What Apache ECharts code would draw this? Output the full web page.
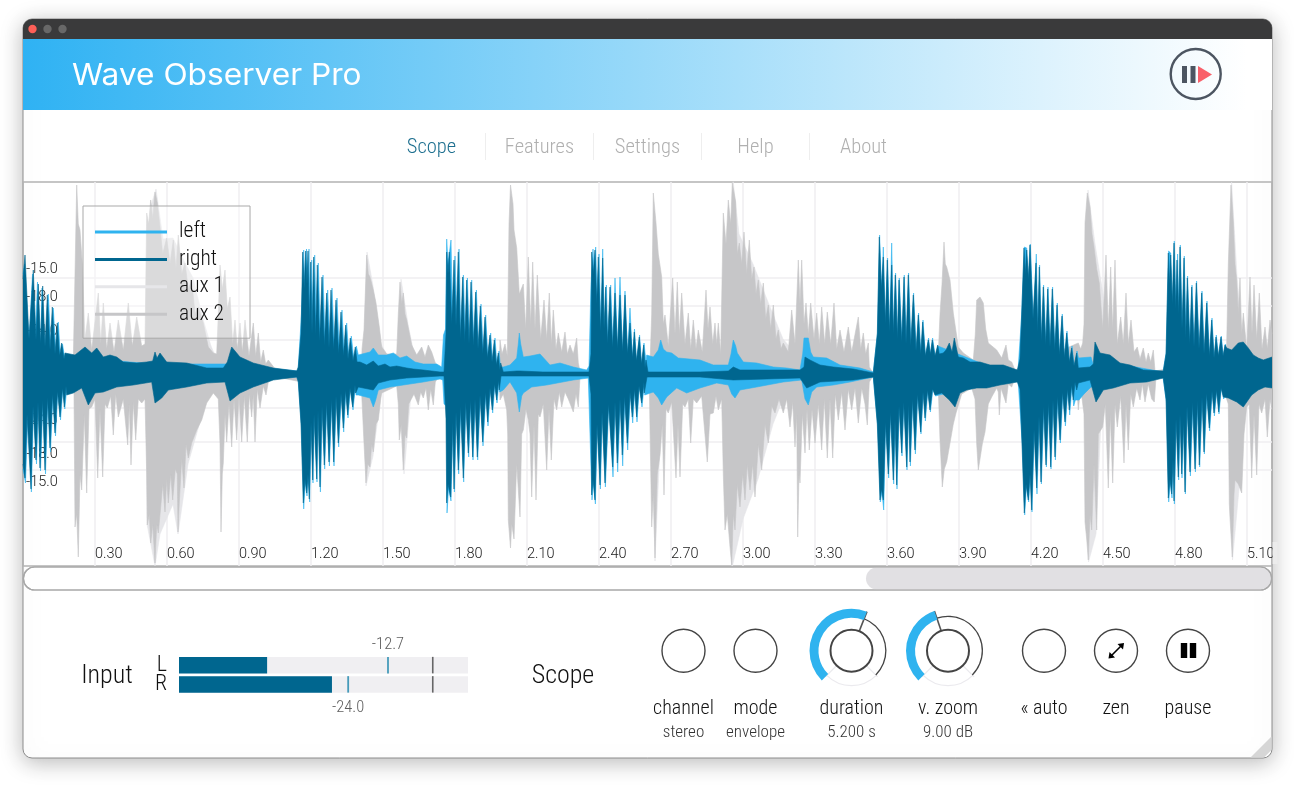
<!DOCTYPE html>
<html>
<head>
<meta charset="utf-8">
<title>Wave Observer Pro</title>
<script src="https://cdn.jsdelivr.net/npm/echarts@6/dist/echarts.min.js"></script>
<style>
html, body { margin: 0; padding: 0; background: #fff; }
#main { width: 1294px; height: 785px; }
</style>
</head>
<body>
<div id="main"></div>
<script>
// x = frame at 240 frames per second, y = amplitude in scope units (view is +-192)
var frameRate = 240;
var lastFrame = 1249;
var ampRange = 192;
var timeTicks = [0.30, 0.60, 0.90, 1.20, 1.50, 1.80, 2.10, 2.40, 2.70, 3.00, 3.30, 3.60, 3.90, 4.20, 4.50, 4.80, 5.10];
var ampTicks = [-96, -68, -34, 34, 68, 96];
var ampLabels = ['-15.0', '-18.0', '-24.0', '-24.0', '-18.0', '-15.0'];

var rightUp = [[0,95],[2,119],[6,35],[10.3,104],[13,34],[15.3,90],[17.5,30],[19.7,88],[22,27],[24.3,79],[27,24],[29.3,67],[32,20],[34.3,51],[36.5,18],[38.7,31],[41,15],[42,21],[52,19],[62,27],[68.7,21],[73.7,26],[80.3,17],[87,19],[93.7,17],[100.3,12],[113.7,11],[123.7,12],[129.7,13],[132,22],[134,16],[137,21],[143.7,12],[163.7,11],[183.7,6],[200.3,6],[204.3,12],[208.7,27],[217,17],[230.3,11],[250.3,6],[273.7,3],
  [275.3,7],[278,40],[279.7,122],[281.2,85],[282.7,123],[284,90],[285,123],[286.3,50],[287.7,112],[289,40],[290.7,117],[292.5,38],[294.3,109],[296.5,32],[299,97],[301.3,28],[303.7,81],[306,26],[308,84],[310.5,24],[313,74],[315.5,20],[318,62],[320.3,18],[322.7,49],[325,15],[327.3,36],[330,13],[332.3,27],[334,12],
  [337,12],[343.7,9],[350.3,13],[355.3,8],[362,10],[367,7],[373.7,8],[383.7,6],[390.3,5],[400.3,4],[417,2],[421,2],
  [423,40],[423.7,122],[425,100],[426.3,122],[428.7,50],[431,114],[433,48],[435.3,122],[437.3,35],[439.7,97],[441.7,32],[443.7,94],[446,30],[448,92],[450.3,28],[452.7,82],[455,25],[457.3,68],[459.7,20],[462,57],[464.3,16],[467,39],[469,12],[471.3,34],[473.3,9],[475.3,21],[476.7,4],[477.7,11],[480.3,2],
  [493.7,3],[497,3],[520,2],[540,2],[566,2],
  [568,20],[568.7,122],[570.3,100],[572,124],[573.7,70],[575.3,117],[577.5,42],[579.7,116],[581,45],[582.7,87],[584.5,30],[587,87],[589.5,26],[592,81],[594.5,25],[597,79],[599.5,22],[602,79],[604.5,20],[607,51],[609.5,16],[611.3,42],[613.5,13],[616.3,37],[618.5,10],[620.7,29],[622,6],[623,14],[625,2],
  [677,2],[705.3,3],[710.3,7],[717,4],[777,4],[781,7],[782,17],[787,14],[797,9],[810.3,7],[830.3,5],[850.3,1],
  [852,3],[854.3,40],[856.3,137],[858.3,85],[860.3,117],[862.3,50],[864.3,114],[866.3,42],[868.7,109],[870.3,40],[872.3,99],[874.3,35],[876,94],[878.7,32],[881,97],[883,30],[885.3,99],[887.7,28],[890.3,79],[893,23],[895.3,59],[897.7,20],[899.7,52],[902.3,18],[905.3,34],[907.3,20],[909.3,34],[912,18],[914.7,29],[916.3,20],
  [920.3,21],[923,24],[926.3,31],[929,22],[931.3,36],[935.3,17],[940.3,16],[947,12],[957,12],[967,9],[980.3,9],[994.3,4],
  [997,15],[998.7,60],[1001,126],[1002.3,100],[1003.7,124],[1005.3,95],[1007,129],[1010,55],[1013,111],[1014.7,42],[1016.3,107],[1018.3,33],[1020.3,87],[1022.7,29],[1024.7,85],[1027,27],[1029.3,85],[1031.7,24],[1034,69],[1036.3,19],[1039,58],[1041.3,16],[1043.7,41],[1046.3,12],[1048.7,26],[1051,8],[1053.7,21],[1055.3,6],
  [1067,7],[1070.3,10],[1072,32],[1077,21],[1087,19],[1097,11],[1107,9],[1120.3,4],[1140.3,3],
  [1143,20],[1145.3,121],[1146.3,90],[1147.7,119],[1149.3,70],[1151,131],[1152.7,65],[1154,114],[1155.7,60],[1157,127],[1159,45],[1161,116],[1162.7,35],[1164.3,96],[1166.7,30],[1168.7,87],[1171,27],[1173.3,91],[1176,25],[1178.7,81],[1181,20],[1183.7,71],[1186.3,18],[1188.7,54],[1191,16],[1193,37],[1195.3,18],[1198,37],[1200,18],[1202,29],[1203.7,26],[1208.7,24],[1215.3,31],[1220.3,32],[1225.3,26],[1230.3,19],[1235.3,16],[1240.3,14],[1249,17]];

var rightDn = [[0,-90],[2,-104],[4,-40],[8,-115],[10,-32],[13,-86],[15,-28],[17,-94],[19.5,-26],[22,-96],[24.5,-23],[27,-74],[29.5,-20],[32,-59],[34.5,-17],[37,-43],[39.5,-14],[41.3,-33],[43,-12],[43.7,-21],[50.3,-19],[58.7,-14],[65.3,-31],[72,-19],[80.3,-18],[93.7,-13],[110.3,-11],[128.7,-8],[132,-29],[138.7,-24],[145.3,-16],[163.7,-13],[183.7,-9],[202,-8],[207,-27],[217,-19],[230.3,-13],[250.3,-6],[273.7,-3],
  [275.3,-8],[278,-50],[280.3,-129],[282,-105],[283.7,-119],[285,-100],[286.3,-125],[288,-48],[289.7,-106],[291,-40],[293.7,-105],[295,-36],[297,-113],[299,-32],[301.3,-91],[303.5,-28],[306,-88],[308.5,-25],[310.7,-88],[313,-22],[315.3,-69],[318,-19],[320.3,-54],[322.5,-16],[324.7,-41],[327,-14],[329.7,-33],[332,-11],[332.7,-19],
  [335.3,-13],[350.3,-16],[355.3,-9],[367,-6],[383.7,-4],[400.3,-3],[417,-2],[421,-2],
  [423,-45],[423.7,-129],[425,-110],[427.7,-123],[429.7,-48],[431,-115],[433,-38],[435.3,-96],[437.5,-32],[440.3,-104],[442.7,-28],[445.3,-79],[447.5,-26],[449.7,-83],[452,-25],[454.3,-83],[457,-21],[459.7,-68],[462.5,-18],[464.7,-48],[467,-14],[469.3,-36],[471.5,-10],[473.7,-26],[475.5,-6],[476.3,-16],[478,-2],
  [500,-2],[540,-2],[566,-2],
  [568,-20],[568.7,-121],[570,-105],[572,-126],[574,-50],[577,-111],[579,-38],[582,-109],[585.5,-30],[589.7,-93],[592,-28],[594.3,-89],[597,-25],[599.3,-81],[601.5,-22],[604.3,-69],[607,-18],[609.3,-43],[611.5,-15],[613.7,-43],[616,-12],[618.7,-29],[621,-8],[621.3,-19],[624,-3],
  [677,-3],[710.3,-6],[777,-4],[783.7,-14],[797,-8],[830.3,-6],[850.3,-3],
  [852,-4],[854.3,-50],[857,-126],[858.5,-115],[860.3,-126],[862.5,-48],[865.3,-100],[867.5,-38],[870.3,-106],[872,-45],[873.7,-111],[876,-32],[878.7,-79],[880.7,-28],[883.7,-93],[885.5,-30],[887,-88],[889.5,-25],[892,-76],[894.5,-20],[897.7,-58],[900,-18],[902,-44],[904.5,-16],[907,-36],[909.5,-15],[912,-21],
  [918.7,-19],[926.3,-26],[932,-33],[937,-19],[943.7,-16],[953.7,-14],[963.7,-14],[977,-11],[994.3,-8],
  [997,-15],[999,-70],[1001.3,-139],[1003,-110],[1005.3,-126],[1007,-100],[1008.7,-136],[1011,-55],[1013.7,-114],[1016,-42],[1018,-108],[1020.5,-32],[1023,-91],[1025.5,-29],[1027.7,-93],[1030,-26],[1032,-83],[1034.5,-22],[1037,-66],[1039.5,-18],[1042,-48],[1044.5,-15],[1046.3,-36],[1048.5,-11],[1050.3,-26],[1052,-8],[1053.7,-16],[1055.3,-9],
  [1067,-6],[1073,-28],[1080.3,-16],[1090.3,-14],[1107,-9],[1123.7,-8],[1140.3,-4],
  [1143,-25],[1145.3,-124],[1147,-105],[1148.7,-120],[1150,-85],[1151,-127],[1153,-45],[1155.3,-103],[1157,-40],[1158.7,-100],[1160.5,-48],[1162,-118],[1164,-32],[1167,-98],[1169.5,-28],[1172,-95],[1174.5,-26],[1176.3,-91],[1179,-23],[1181,-78],[1183.5,-19],[1186.3,-54],[1189,-17],[1191,-39],[1193.5,-16],[1195.7,-38],[1198,-14],[1200.3,-23],[1205.3,-24],[1213.7,-28],[1220.3,-33],[1228.7,-21],[1235.3,-16],[1242,-13],[1249,-14]];

var leftUp = [[0,100],[1.5,110],[6,30],[9.5,100],[12,30],[14.5,92],[17.5,26],[19,86],[22,24],[25.3,80],[28,22],[30.3,66],[33,18],[35.3,52],[37.5,15],[39.5,30],[42,14],[60,16],[130,10],[205,10],[275,3],
  [278.5,60],[280.7,124],[282,85],[283.5,125],[285,90],[286,125],[287.3,46],[288.7,114],[290,38],[291.7,119],[293.5,34],[295.3,111],[297.5,30],[300,99],[302.3,26],[304.7,84],[307,24],[309,86],[311.5,22],[314,76],[316.5,19],[319,64],[321.3,17],[323.7,51],[326,14],[328.3,38],[331,13],[333.3,28],[335.3,19],
  [347,22],[350.3,26],[355.3,19],[363.7,19],[370.3,21],[377,16],[383.7,18],[392,12],[400.3,10],[413.7,10],[418.7,7],[420,8],[420.5,39],[422.5,45],
  [423.7,135],[425,110],[428,134],[429.7,46],[432,118],[434,45],[436,125],[438,32],[440.4,99],[442.4,30],[444.4,96],[446.7,28],[448.7,94],[451,26],[453.4,84],[455.7,23],[458,70],[460.4,19],[462.7,59],[465,15],[467.7,41],[469.7,11],[472,36],[474,8],[476,23],[477.5,7],
  [480.3,7],[487,9],[493.7,16],[495.3,30],[496.3,41],[497.7,30],[500.3,17],[507,18],[517,20],[527,9],[537,11],[550.3,7],[563.7,4],
  [566,8],[568,90],[570,125],[571,103],[572.7,127],[574.3,66],[576,120],[578,40],[579.7,125],[581.5,42],[583.4,89],[585,28],[587.7,89],[590,24],[592,96],[594.5,24],[597,97],[599.5,21],[602,83],[604.5,19],[607,66],[609.5,15],[611.5,45],[613.5,12],[616.6,39],[618.5,10],[621,31],[623,12],
  [623.7,19],[630.3,17],[635.3,24],[637.7,34],[640.3,25],[643.7,22],[648.7,21],[655.3,16],[677,14],[690.3,9],[705.3,9],[708,20],[710.3,34],[712.7,28],[714.3,21],[720.3,12],[733.7,11],[750.3,7],[763.7,6],[777,4],[779.7,20],[781,36],[785.3,36],[787.7,22],[790.3,17],[803.7,16],[817,9],[837,6],[850.3,2],
  [854.6,42],[856.6,139],[858.7,82],[860.3,127],[862.3,48],[864.6,116],[866.6,40],[868.7,131],[870.6,38],[872.6,101],[874.6,33],[876.3,96],[879,30],[881.3,99],[883.3,28],[885.6,101],[888,26],[890.6,81],[893.3,22],[895.6,61],[898,19],[900,54],[902.6,17],[905.6,36],[907.6,18],[909.6,36],[912.3,17],[915,28],[960,10],[995,3],
  [998.7,60],[1001.3,127],[1003.7,126],[1005.7,92],[1007.3,130],[1010.3,52],[1013.3,120],[1015,40],[1016.6,109],[1018.6,31],[1020.6,89],[1023,27],[1025,87],[1027.3,25],[1029.6,87],[1032,22],[1034.3,71],[1036.6,18],[1039.3,60],[1041.6,15],[1044,43],[1046.6,11],[1049,28],[1051.3,8],[1054,23],[1055.5,16],[1057,16],[1068,17],[1070,10],[1075,14],[1140,2],
  [1143.3,22],[1145.6,123],[1147.7,121],[1149.5,66],[1151.3,133],[1153,62],[1154.6,120],[1156,56],[1157.3,129],[1159.3,42],[1161.3,118],[1163,33],[1164.6,98],[1167,28],[1169,89],[1171.3,25],[1173.6,93],[1176.3,23],[1179,83],[1181.3,19],[1184,73],[1186.6,17],[1189,56],[1191.3,15],[1193.3,39],[1195.6,17],[1198.3,38],[1200.3,17],[1202.3,30],[1204,20],[1249,12]];

var leftDn = [[0,-95],[2.5,-109],[5,-36],[8.4,-118],[10.5,-30],[13.5,-90],[15.5,-26],[17.5,-97],[20,-24],[22.5,-100],[25,-21],[27.5,-78],[30,-19],[32.5,-62],[35,-15],[37.5,-46],[40,-13],[41.8,-35],[44,-12],[60,-10],[130,-6],[205,-6],[275,-3],
  [278.4,-52],[280.7,-135],[282.3,-108],[284,-122],[285.5,-102],[286.7,-128],[288.4,-45],[290,-109],[291.5,-38],[294,-108],[295.5,-34],[297.4,-118],[299.5,-30],[301.7,-95],[304,-26],[306.4,-92],[309,-24],[311,-92],[313.5,-20],[315.7,-73],[318.5,-18],[320.7,-58],[323,-15],[325,-44],[327.5,-13],[330,-36],[332.5,-11],[333,-21],
  [335.3,-21],[347,-24],[350.3,-33],[352.7,-26],[355.3,-16],[367,-13],[380.3,-11],[400.3,-8],[417,-5],[419.7,-6],[421,-30],[423.7,-32],
  [424,-139],[425.5,-115],[428,-127],[430,-46],[431.4,-118],[433.5,-36],[435.7,-100],[438,-30],[440.7,-108],[443,-26],[445.7,-83],[448,-25],[450,-86],[452.5,-24],[454.7,-86],[457.5,-20],[460,-72],[463,-17],[465,-52],[467.5,-13],[469.7,-39],[472,-9],[474,-29],[476,-8],[476.7,-18],
  [480.3,-16],[487,-8],[493.7,-19],[496.3,-38],[498.7,-22],[500.3,-19],[508.7,-13],[523.7,-11],[550.3,-6],[565.3,-4],
  [566.5,-6],[569,-126],[570.4,-108],[572.4,-130],[574.4,-48],[577.4,-115],[579.4,-36],[582.4,-113],[585.9,-28],[590,-103],[592.4,-26],[594.7,-98],[597.4,-24],[599.7,-92],[602,-21],[604.7,-76],[607.4,-17],[609.7,-49],[612,-14],[614,-48],[616.4,-11],[619,-33],[621.4,-8],[621.7,-21],
  [622,-19],[630.3,-18],[635.3,-24],[638.7,-31],[643.7,-23],[653.7,-14],[663.7,-19],[677,-14],[693.7,-9],[705.3,-11],[708.7,-20],[712,-24],[717,-16],[733.7,-13],[760.3,-8],[778.7,-6],[782,-25],[785.3,-31],[788.7,-18],[793.7,-13],[810.3,-11],[827,-8],[850.3,-3],
  [854.7,-52],[857.3,-128],[859,-118],[860.7,-136],[862.7,-46],[865.7,-104],[867.7,-36],[870.7,-110],[872.4,-43],[874,-115],[876.4,-30],[879,-82],[881,-26],[884,-96],[885.9,-28],[887.4,-92],[889.9,-24],[892.4,-80],[894.9,-19],[898,-60],[900.4,-17],[902.4,-47],[905,-15],[907.4,-38],[910,-14],[912.4,-22],[960,-10],[995,-5],
  [999.4,-72],[1001.7,-141],[1003.4,-112],[1005.7,-128],[1007.4,-96],[1009,-138],[1011.4,-52],[1014,-120],[1016.4,-40],[1018.4,-110],[1021,-30],[1023.4,-93],[1026,-27],[1028,-95],[1030.4,-25],[1032.4,-86],[1035,-21],[1037.4,-69],[1040,-17],[1042.4,-52],[1045,-14],[1046.7,-41],[1049,-12],[1050.7,-32],[1052.4,-26],[1056,-26],[1061,-20],[1067,-14],[1073,-10],[1140,-3],
  [1143.4,-28],[1145.7,-128],[1147.4,-108],[1149,-124],[1150.4,-82],[1151.4,-130],[1153.4,-43],[1155.7,-106],[1157.4,-38],[1159,-104],[1160.9,-45],[1162.4,-120],[1164.4,-30],[1167.4,-102],[1170,-26],[1172.4,-98],[1175,-25],[1176.7,-93],[1179.4,-22],[1181.4,-80],[1184,-18],[1186.7,-57],[1189.4,-16],[1191.4,-42],[1194,-15],[1196,-40],[1198.4,-13],[1200.7,-25],[1204,-15],[1249,-10]];

var aux2Up = [[0,0],[50,0],[52,100],[53.7,189],[55.3,150],[57,144],[59.3,110],[62,35],[65.3,61],[68.7,24],[75.3,81],[77.7,30],[80.3,71],[83.7,25],[87,51],[91,22],[95.3,54],[100.3,24],[105.3,71],[109.3,28],[113.7,57],[118.7,28],[122,30],[123.7,161],[125.7,150],[127.7,174],[129.7,155],[132,182],[134.3,171],[137,147],[139.7,120],[143.7,136],[147,110],[150.3,134],[153,105],[155.3,139],[158.7,100],[162,111],[165.3,85],[168.7,94],[172,60],[175.3,67],[180.3,51],[185.3,27],[190.3,21],[193.7,20],[195.3,60],[197,109],[199.3,85],[202,104],[204.3,65],[207,77],[209.7,30],[212,54],[214.3,25],[217,51],[219.3,22],[222,54],[226,18],[230.3,51],[232.7,18],[235.3,41],[237.7,12],[240.3,24],[242.7,10],[245.3,14],[253.7,3],
  [338.7,3],[339,25],[341,44],[343.7,119],[345.3,100],[347,97],[350.3,84],[353,71],[356.3,47],[358.7,27],[363.7,20],[373.7,20],[375.3,60],[377,92],[378.7,70],[380.3,81],[382,60],[383.7,54],[388.7,29],[393.7,19],[398.7,27],[402,17],[405.3,29],[408.7,22],[410.3,24],[412,12],[415.3,5],
  [476.3,10],[477,34],[479,20],[482,30],[484.3,18],[486,150],[487.5,189],[490,170],[491,144],[493.7,126],[496.3,80],[500.3,90],[502.7,45],[505.3,117],[507.7,50],[509.7,112],[512,45],[514.3,99],[517.7,35],[521,74],[523.7,35],[526.3,81],[528.3,30],[530.3,64],[533,25],[535.3,41],[538.7,22],[542,42],[544.3,20],[547,29],[550.3,20],[553.7,36],[555.3,11],[557,3],
  [627,10],[628.7,60],[630.3,181],[633,151],[635.3,120],[638.7,97],[640.3,50],[642,59],[645.3,28],[649.7,96],[652,40],[654.3,92],[656.3,40],[658.7,81],[662,30],[665.3,61],[667.7,25],[670.3,54],[673,25],[675.3,44],[679.3,22],[683,84],[685,45],[687,67],[689.7,30],[692,51],[693.7,30],[695.3,51],[697.7,20],[700.3,161],[703,130],[705.3,174],[707.7,150],[709.3,191],[712.7,172],[714.3,120],[716.3,131],[718.7,110],[721,142],[723.7,100],[726.3,134],[728.7,95],[731,107],[733,80],[735.3,94],[737.7,70],[740.3,91],[742.7,55],[745.3,69],[747.7,45],[750.3,69],[753,35],[755.3,44],[758,25],[760.3,31],[765.3,22],[768.7,64],[772,30],[775.3,114],[777,70],[778.7,114],[781,50],[783,71],[785.3,40],[787.7,71],[791,35],[793.7,61],[796.3,30],[798.7,67],[801.7,30],[804.3,62],[807.7,30],[811,71],[813.7,25],[817,44],[821,22],[825.3,47],[828.7,22],[835.3,57],[837.7,25],[840.3,41],[842.7,20],[845.3,31],[846.3,7],[850,1],
  [915.3,20],[917,60],[919,90],[921,132],[922.3,110],[923.7,107],[927,94],[930.3,61],[935.3,27],[940.3,21],[950.3,14],[952.3,40],[953.7,74],[957,77],[960.3,71],[962.7,45],[965.3,31],[973.7,24],[978.7,16],[983,29],[985.3,14],[988.7,12],[992,4],
  [1055.3,31],[1057.7,25],[1059.7,31],[1061,50],[1062,151],[1064.3,181],[1067,167],[1069,140],[1071,127],[1073.7,105],[1076.3,91],[1079.7,45],[1083,119],[1085.3,45],[1087.7,107],[1089.7,45],[1092,114],[1094.3,30],[1097.7,57],[1100.3,30],[1103,81],[1105.3,30],[1108,54],[1111,22],[1114.3,27],[1117,15],[1120.3,26],[1123,12],[1125.3,21],[1127.7,12],[1130.3,24],[1132,3],
  [1200.3,15],[1203.7,30],[1205.3,110],[1208,189],[1210.3,152],[1212,110],[1213.7,94],[1215.3,60],[1217,96],[1218.7,40],[1220.3,61],[1223.7,25],[1227,97],[1229,40],[1231,89],[1233.7,35],[1236.3,81],[1239,25],[1242,47],[1244.3,25],[1247,54],[1249,40]];

var aux2Dn = [[0,0],[50,0],[51,-20],[52,-153],[53.7,-140],[55.3,-183],[57,-100],[58.7,-116],[61.3,-40],[63.7,-119],[66,-35],[68.7,-33],[72,-25],[74.7,-104],[77,-35],[79.7,-103],[82,-30],[84.3,-34],[87.7,-22],[90.3,-61],[92.7,-20],[95.3,-43],[100.3,-25],[104.7,-71],[106.3,-30],[108,-91],[110.3,-28],[112.7,-66],[115.3,-25],[118.7,-29],[122,-25],[123.7,-100],[124.3,-151],[126.3,-140],[127.7,-169],[129.7,-150],[132,-189],[133.7,-150],[135.3,-159],[137.7,-133],[139.7,-110],[142,-138],[143.7,-105],[145.3,-129],[147.7,-100],[149.7,-126],[152.3,-95],[154.3,-100],[155,-158],[156.3,-128],[158.7,-85],[161,-114],[163,-70],[165.3,-84],[168.7,-69],[173.7,-56],[178.7,-46],[183.7,-29],[190.3,-19],[195.3,-25],[197,-70],[198,-158],[199.3,-100],[200.3,-89],[202,-40],[203.7,-68],[206,-30],[208.7,-73],[211,-25],[213.7,-66],[216,-22],[218.7,-68],[221.3,-22],[224.3,-68],[226.3,-20],[228.7,-43],[230.3,-20],[232,-68],[234.3,-15],[237,-34],[240.3,-12],[243,-21],[245.3,-8],[253.7,-3],
  [338.7,-20],[341,-69],[343,-109],[344.7,-90],[347,-93],[348.7,-70],[350.3,-78],[353,-50],[355.3,-46],[357.7,-25],[358.7,-19],[373.7,-12],[375.3,-30],[376.3,-66],[378.3,-50],[380.3,-96],[382,-60],[383.7,-64],[385.7,-30],[387,-29],[391,-20],[395.3,-31],[397.7,-18],[400.3,-24],[403,-14],[405.3,-36],[407.7,-15],[410.3,-31],[412.3,-8],[415.3,-3],
  [476.3,-10],[477,-26],[480.3,-20],[483.7,-36],[484.7,-60],[485.3,-146],[487.5,-174],[488.7,-150],[491,-165],[493.7,-90],[497,-143],[498.7,-60],[500.3,-56],[503,-35],[505.3,-46],[507,-60],[508.7,-123],[511,-50],[513,-126],[515.3,-40],[517,-43],[520.3,-30],[523.7,-96],[526,-35],[528.3,-86],[531,-25],[533.7,-36],[536.3,-18],[538.7,-33],[542,-18],[545.3,-25],[550.3,-38],[553,-20],[555.3,-33],[557,-3],
  [626.3,-12],[628.7,-153],[630.3,-120],[632,-184],[634.3,-100],[637,-81],[639.3,-50],[641,-121],[643,-35],[645.3,-39],[648.7,-28],[653,-104],[655,-50],[657,-103],[659.7,-30],[662,-33],[665.3,-25],[667.7,-69],[670.3,-25],[673.7,-29],[678.7,-22],[684.3,-88],[687,-40],[690.3,-39],[693,-22],[695.3,-36],[698.7,-25],[700.3,-100],[702,-156],[704.3,-140],[707,-173],[708.7,-191],[710.3,-140],[712,-156],[714.3,-110],[717,-133],[719.7,-100],[722,-126],[724.3,-90],[727,-116],[729.7,-90],[732,-123],[735.3,-70],[738.7,-96],[742,-50],[745.3,-69],[748.7,-32],[752,-39],[756,-25],[760.3,-39],[763.7,-25],[767,-53],[769.7,-28],[772,-73],[773.7,-40],[774.7,-163],[776,-100],[777,-109],[779.3,-40],[782,-79],[784,-35],[786.3,-76],[789,-35],[792,-69],[795.3,-30],[798.7,-76],[801.3,-25],[804.3,-84],[807,-25],[809.7,-84],[812.3,-20],[815.3,-46],[818.7,-18],[822,-56],[825.3,-15],[828.7,-36],[832,-14],[835.3,-49],[838.7,-14],[842,-30],[844.3,-51],[846.3,-8],[850,-2],
  [915.3,-15],[917,-66],[919.3,-113],[921.3,-95],[923.7,-88],[927,-69],[930.3,-50],[933,-39],[938.7,-20],[948.7,-14],[952,-25],[953.7,-70],[955.3,-96],[957,-98],[959.3,-70],[962,-58],[965.3,-30],[968.7,-23],[973.7,-14],[975.3,-18],[976.3,-41],[978,-14],[983,-29],[985.3,-10],[988.7,-13],[992,-4],
  [1053.7,-12],[1055.3,-36],[1057.7,-14],[1061,-40],[1062,-148],[1063.7,-165],[1065.3,-186],[1067,-140],[1068.7,-156],[1071,-90],[1073.7,-156],[1075.3,-60],[1079.7,-53],[1082.3,-30],[1085.3,-114],[1087.3,-40],[1089.7,-109],[1092,-30],[1094.3,-53],[1097.7,-22],[1101,-89],[1103,-30],[1105.3,-76],[1107.7,-20],[1110.3,-33],[1113.7,-14],[1117,-26],[1119.3,-10],[1122,-28],[1125.3,-10],[1128.7,-25],[1131.3,-28],[1133,-3],
  [1200.3,-15],[1205.3,-30],[1206.3,-130],[1207,-144],[1209.3,-183],[1211,-120],[1212,-106],[1215.3,-110],[1218.7,-119],[1221,-60],[1223.7,-33],[1226.3,-30],[1228.7,-104],[1231,-40],[1233.7,-101],[1236,-30],[1238.7,-39],[1242,-25],[1244.3,-63],[1247,-25],[1249,-36]];

var aux1Up = [[0,0],[126,0],[127,165],[133,185],[140,135],[150,136],[160,115],[170,96],[180,55],[188,28],[200,0],[340,0],[344,122],[350,88],[358,30],[375,0],[378,95],[385,50],[395,0],[708,0],[710,194],[716,140],[730,110],[745,72],[760,35],[790,0],[1061,0],[1065,184],[1072,130],[1080,80],[1090,0],[1207,0],[1208.6,192],[1214,98],[1222,0],[1249,0]];
var aux1Dn = [[0,0],[123,0],[124,-150],[132,-192],[137,-160],[150,-130],[155,-160],[165,-90],[175,-55],[190,0],[340,0],[343,-112],[350,-82],[358,-20],[375,0],[381,-100],[388,-20],[395,0],[628,0],[632,-187],[640,0],[700,0],[709,-194],[720,-145],[735,-105],[750,-50],[770,0],[1061,0],[1065.5,-188],[1073,-160],[1080,0],[1205,0],[1209.5,-186],[1216,-115],[1225,0],[1249,0]];

// input meter, dB
var meterChannels = ['L', 'R'];
var meterFloor = -72;
var meterCeil = 10;
var meterLevels = [-47, -28.6];
var meterPeaks = [-12.7, -24.0];
var meterZero = 0;

// knob positions, 0..1 of their sweep
var durationKnob = 0.58;
var vzoomKnob = 0.43;

var navItems = ['Scope', 'Features', 'Settings', 'Help', 'About'];
var buttonNames = ['channel', 'mode', 'duration', 'v. zoom', '« auto', 'zen', 'pause'];
var buttonValues = ['stereo', 'envelope', '5.200 s', '9.00 dB', '', '', ''];

var uiFamily = '"Roboto Condensed", Roboto, sans-serif';
var uiFont = '300 {s}px ' + uiFamily;
var tickFont = 'Roboto, sans-serif';
var colLeft = '#2fb3ef', colRight = '#00668f', colAux1 = '#e6e6e9', colAux2 = '#c6c6c8';
var knobX = [683.5, 755.5, 851.5, 948, 1044, 1116, 1188];
var knobY = 650.7;

function waveSeries(name, data, color, z) {
  return {
    name: name, type: 'line', data: data, xAxisIndex: 0, yAxisIndex: 0, z: z,
    symbol: 'none', silent: true, animation: false,
    lineStyle: { width: 0.6, color: color },
    itemStyle: { color: color },
    areaStyle: { color: color, opacity: 1 }
  };
}

function knobGauge(center, value) {
  var base = {
    type: 'gauge', center: center, startAngle: 225, endAngle: -45, min: 0, max: 1,
    animation: false, silent: true,
    axisTick: { show: false }, splitLine: { show: false }, axisLabel: { show: false },
    title: { show: false }, detail: { show: false },
    data: [{ value: value }]
  };
  return [
    Object.assign({}, base, {
      radius: 42,
      axisLine: { lineStyle: { width: 9, color: [[1, 'rgba(0,0,0,0)']] } },
      progress: { show: true, width: 9, itemStyle: { color: colLeft } },
      pointer: { show: false }
    }),
    Object.assign({}, base, {
      radius: 35,
      axisLine: { lineStyle: { width: 1.3, color: [[value, 'rgba(0,0,0,0)'], [1, '#444']] } },
      pointer: { length: 42, width: 1.6, icon: 'rect', itemStyle: { color: '#555' } },
      anchor: { show: true, showAbove: true, size: 42, itemStyle: { color: '#fff', borderColor: '#444', borderWidth: 2 } }
    })
  ];
}

function txt(text, x, y, size, color) {
  return {
    type: 'text', z: 60,
    style: { text: text, x: x, y: y + 1.5, fill: color || '#111', textAlign: 'center', textVerticalAlign: 'middle', font: uiFont.replace('{s}', size) }
  };
}

function knobDecor(cx) {
  var r = Math.PI / 180, list = [];
  list.push({ type: 'arc', z: 1, shape: { cx: cx, cy: knobY, r: 35, startAngle: 45 * r, endAngle: 135 * r, clockwise: true }, style: { stroke: '#ebeaee', lineWidth: 1.2, fill: 'none' } });
  [45, 135].forEach(function (a) {
    var c = Math.cos(a * r), s = Math.sin(a * r);
    list.push({ type: 'line', z: 1, shape: { x1: cx + 22 * c, y1: knobY + 22 * s, x2: cx + 37 * c, y2: knobY + 37 * s }, style: { stroke: '#ebeaee', lineWidth: 1.2 } });
  });
  return list;
}

var graphics = [
  // window
  { type: 'rect', z: -20, shape: { x: 23, y: 19, width: 1249, height: 739, r: 9 }, style: { fill: '#fff', stroke: '#8c8c8c', lineWidth: 1, shadowBlur: 22, shadowColor: 'rgba(0,0,0,0.28)', shadowOffsetY: 4 } },
  { type: 'rect', z: -19, shape: { x: 23, y: 19, width: 1249, height: 20, r: [9, 9, 0, 0] }, style: { fill: '#3a3a3b' } },
  { type: 'rect', z: -19, shape: { x: 23, y: 39, width: 1249, height: 71 }, style: { fill: new echarts.graphic.LinearGradient(0, 0, 1, 0, [{ offset: 0, color: '#2fb2f3' }, { offset: 0.98, color: '#ffffff' }]) } },
  { type: 'circle', z: 60, shape: { cx: 32.5, cy: 29, r: 4.2 }, style: { fill: '#fe5f57' } },
  { type: 'circle', z: 60, shape: { cx: 47.5, cy: 29, r: 4.2 }, style: { fill: '#686868' } },
  { type: 'circle', z: 60, shape: { cx: 62.5, cy: 29, r: 4.2 }, style: { fill: '#686868' } },
  { type: 'text', z: 60, x: 72, y: 76, scaleX: 1.055, style: { text: 'Wave Observer Pro', x: 0, y: 0, fill: '#fff', textAlign: 'left', textVerticalAlign: 'middle', font: '400 30px Inter, sans-serif' } },
  // logo
  { type: 'circle', z: 60, shape: { cx: 1195.7, cy: 74, r: 25 }, style: { fill: 'none', stroke: '#4c5561', lineWidth: 2.4 } },
  { type: 'rect', z: 60, shape: { x: 1182, y: 66, width: 5, height: 17 }, style: { fill: '#4c5561' } },
  { type: 'rect', z: 60, shape: { x: 1190.5, y: 66, width: 5, height: 17 }, style: { fill: '#4c5561' } },
  { type: 'polygon', z: 60, shape: { points: [[1198, 66], [1212, 74.5], [1198, 83]] }, style: { fill: '#f9606a' } },
  // scrollbar
  { type: 'rect', z: 30, shape: { x: 23.5, y: 567, width: 1248, height: 23, r: 11 }, style: { fill: '#fff', stroke: '#a8a8a8', lineWidth: 1.2 } },
  { type: 'rect', z: 30, shape: { x: 866, y: 567.5, width: 405, height: 22, r: 11 }, style: { fill: '#e1e0e3' } },
  { type: 'rect', z: 30, shape: { x: 23.5, y: 567, width: 1248, height: 23, r: 11 }, style: { fill: 'none', stroke: '#a8a8a8', lineWidth: 1.2 } },
  // clip the last tick label at the window edge
  { type: 'rect', z: 30, shape: { x: 1272.6, y: 542, width: 5, height: 22 }, style: { fill: '#ececec' } },
  // resize corner
  { type: 'polygon', z: 60, shape: { points: [[1250.5, 757.5], [1271.5, 736.5], [1271.5, 750], [1264, 757.5]] }, style: { fill: '#d6d6d6' } },
  txt('Input', 107, 675, 26),
  txt('Scope', 563, 675, 26),
  // pause + zen glyphs
  { type: 'rect', z: 60, shape: { x: 1180.8, y: 643, width: 6.4, height: 15 }, style: { fill: '#000' } },
  { type: 'rect', z: 60, shape: { x: 1189.8, y: 643, width: 6.4, height: 15 }, style: { fill: '#000' } },
  { type: 'line', z: 60, shape: { x1: 1111, y1: 656, x2: 1121, y2: 646 }, style: { stroke: '#000', lineWidth: 1.6 } },
  { type: 'polygon', z: 60, shape: { points: [[1124, 643], [1117.5, 644], [1123, 649.5]] }, style: { fill: '#000' } },
  { type: 'polygon', z: 60, shape: { points: [[1108.5, 658.5], [1109.5, 652], [1115, 657.5]] }, style: { fill: '#000' } }
];

navItems.forEach(function (name, i) {
  var x = 431.5 + i * 108;
  graphics.push(txt(name, x, 146, 20.5, i === 0 ? '#1d6f8f' : '#b0b0b0'));
  if (i < navItems.length - 1) {
    graphics.push({ type: 'line', z: 1, shape: { x1: x + 54, y1: 133, x2: x + 54, y2: 160 }, style: { stroke: '#eeeeee', lineWidth: 1 } });
  }
});

buttonNames.forEach(function (name, i) {
  graphics.push(txt(name, knobX[i], 707, 20));
  if (buttonValues[i]) graphics.push(txt(buttonValues[i], knobX[i], 731, 17, '#333'));
  if (i !== 2 && i !== 3) {
    graphics.push({ type: 'circle', z: 5, shape: { cx: knobX[i], cy: knobY, r: 21.5 }, style: { fill: '#fff', stroke: '#444', lineWidth: 1.4 } });
  }
});
graphics = graphics.concat(knobDecor(knobX[2]), knobDecor(knobX[3]));

var myChart = echarts.init(document.getElementById('main'));

var option = {
  animation: false,
  backgroundColor: '#ffffff',
  graphic: { elements: graphics },
  legend: {
    left: 83, top: 206, z: 40,
    padding: [15, 26, 13, 12],
    orient: 'vertical', align: 'left',
    itemWidth: 72, itemHeight: 3, itemGap: 5.4,
    backgroundColor: 'rgba(255,255,255,0.35)',
    borderColor: '#a9a9a9', borderWidth: 1,
    selectedMode: false,
    textStyle: { fontFamily: uiFamily, fontWeight: 300, fontSize: 21.5, color: '#111', lineHeight: 20, padding: [0, 0, 0, 7] },
    data: [
      { name: 'left', icon: 'rect', itemStyle: { color: colLeft } },
      { name: 'right', icon: 'rect', itemStyle: { color: colRight } },
      { name: 'aux 1', icon: 'rect', itemStyle: { color: colAux1 } },
      { name: 'aux 2', icon: 'rect', itemStyle: { color: colAux2 } }
    ]
  },
  grid: [
    { left: 23, top: 182, width: 1249, height: 384, show: true, borderColor: '#b3b3b3', borderWidth: 1.5, backgroundColor: 'rgba(0,0,0,0)' },
    { left: 179, top: 655.5, width: 289, height: 38.5 }
  ],
  xAxis: [
    {
      type: 'value', gridIndex: 0, min: 0, max: lastFrame,
      axisLine: { show: false }, axisTick: { show: false, customValues: timeTicks.map(function (t) { return Math.round(t * frameRate); }) },
      splitLine: { show: true, lineStyle: { color: '#efeef1', width: 1.5 } },
      axisLabel: {
        inside: true, align: 'left', margin: 4, fontFamily: tickFont, fontSize: 14.5, fontWeight: 300, color: '#222',
        customValues: timeTicks.map(function (t) { return Math.round(t * frameRate); }),
        formatter: function (v) { return (v / frameRate).toFixed(2); }
      }
    },
    { type: 'value', gridIndex: 1, min: 0, max: meterCeil - meterFloor, show: false, splitLine: { show: false } }
  ],
  yAxis: [
    {
      type: 'value', gridIndex: 0, min: -ampRange, max: ampRange,
      axisLine: { show: false }, axisTick: { show: false, customValues: ampTicks },
      splitLine: { show: true, lineStyle: { color: '#efeef1', width: 1.5 } },
      axisLabel: {
        inside: true, margin: 3, customValues: ampTicks,
        formatter: function (v) {
          return '{' + (v > 0 ? 'up' : 'dn') + '|' + ampLabels[ampTicks.indexOf(v)] + '}';
        },
        rich: {
          up: { fontFamily: tickFont, fontSize: 14.5, fontWeight: 300, color: '#222', padding: [0, 0, 18, 0] },
          dn: { fontFamily: tickFont, fontSize: 14.5, fontWeight: 300, color: '#222', padding: [25, 0, 0, 0] }
        }
      }
    },
    {
      type: 'category', gridIndex: 1, inverse: true, data: meterChannels,
      axisLine: { show: false }, axisTick: { show: false }, splitLine: { show: false },
      axisLabel: { interval: 0, margin: 12, fontFamily: uiFamily, fontWeight: 300, fontSize: 22, color: '#111', padding: [3, 0, 0, 0] }
    }
  ],
  series: [
    waveSeries('aux 1', aux1Up, colAux1, 2), waveSeries('aux 1', aux1Dn, colAux1, 2),
    waveSeries('aux 2', aux2Up, colAux2, 3), waveSeries('aux 2', aux2Dn, colAux2, 3),
    waveSeries('left', leftUp, colLeft, 4), waveSeries('left', leftDn, colLeft, 4),
    waveSeries('right', rightUp, colRight, 5), waveSeries('right', rightDn, colRight, 5),
    {
      type: 'bar', xAxisIndex: 1, yAxisIndex: 1, barWidth: 16.5, silent: true, animation: false,
      showBackground: true, backgroundStyle: { color: '#f0eff2' },
      itemStyle: { color: colRight },
      data: meterLevels.map(function (v) { return v - meterFloor; })
    },
    {
      type: 'scatter', xAxisIndex: 1, yAxisIndex: 1, symbol: 'rect', symbolSize: [1.6, 16.5], silent: true, animation: false,
      itemStyle: { color: '#444' }, z: 6,
      data: meterChannels.map(function (c, i) { return [meterZero - meterFloor, i]; })
    },
    {
      type: 'scatter', xAxisIndex: 1, yAxisIndex: 1, symbol: 'rect', symbolSize: [1.8, 16.5], silent: true, animation: false,
      itemStyle: { color: '#1b86ab' }, z: 6,
      label: {
        show: true, fontFamily: uiFamily, fontWeight: 300, fontSize: 16.5, color: '#333',
        formatter: function (p) { return meterPeaks[p.dataIndex].toFixed(1); }
      },
      data: meterPeaks.map(function (v, i) {
        return { value: [v - meterFloor, i], label: { position: i === 0 ? 'top' : 'bottom', distance: i === 0 ? 4 : 7 } };
      })
    }
  ].concat(knobGauge([knobX[2], knobY], durationKnob), knobGauge([knobX[3], knobY], vzoomKnob))
};

myChart.setOption(option);
</script>
</body>
</html>
